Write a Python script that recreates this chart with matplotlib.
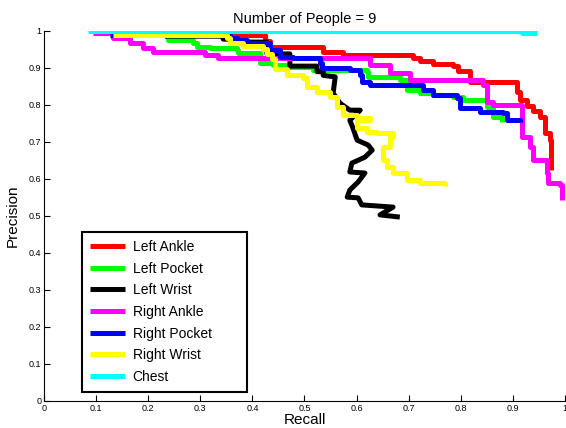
import matplotlib
matplotlib.use("Agg")
import matplotlib.pyplot as plt

plt.rcParams['font.family'] = ['Liberation Sans', 'DejaVu Sans']

# precision / recall curves (step corners)
left_ankle_r = [0.274, 0.424, 0.434, 0.536, 0.574, 0.708, 0.722, 0.747, 0.785, 0.795, 0.818, 0.818,
                0.908, 0.914, 0.927, 0.939, 0.952, 0.962, 0.971, 0.973]
left_ankle_p = [0.989, 0.973, 0.957, 0.943, 0.935, 0.927, 0.919, 0.911, 0.905, 0.892, 0.886, 0.862,
                0.835, 0.814, 0.797, 0.784, 0.768, 0.724, 0.705, 0.624]

left_pocket_r = [0.127, 0.238, 0.286, 0.294, 0.319, 0.370, 0.372, 0.409, 0.415, 0.440, 0.472, 0.516,
                 0.620, 0.622, 0.683, 0.697, 0.722, 0.747, 0.785, 0.804, 0.850, 0.862, 0.879]
left_pocket_p = [0.989, 0.976, 0.968, 0.957, 0.954, 0.949, 0.941, 0.941, 0.914, 0.908, 0.903, 0.895,
                 0.889, 0.876, 0.868, 0.841, 0.832, 0.827, 0.822, 0.814, 0.795, 0.768, 0.754]

left_wrist_r = [0.232, 0.344, 0.344, 0.363, 0.363, 0.428, 0.428, 0.472, 0.472, 0.524, 0.524, 0.536,
                0.536, 0.559, 0.555, 0.568, 0.587, 0.607, 0.587, 0.593, 0.601, 0.622, 0.630, 0.616,
                0.591, 0.587, 0.616, 0.603, 0.587, 0.582, 0.603, 0.610, 0.670, 0.645, 0.683]
left_wrist_p = [0.986, 0.986, 0.978, 0.978, 0.970, 0.970, 0.938, 0.938, 0.905, 0.905, 0.890, 0.890,
                0.880, 0.876, 0.832, 0.805, 0.786, 0.786, 0.759, 0.738, 0.705, 0.692, 0.678, 0.659,
                0.643, 0.619, 0.616, 0.592, 0.570, 0.551, 0.549, 0.530, 0.524, 0.503, 0.497]

right_ankle_r = [0.094, 0.132, 0.165, 0.190, 0.209, 0.305, 0.309, 0.334, 0.620, 0.626, 0.664, 0.702,
                 0.804, 0.843, 0.850, 0.862, 0.914, 0.917, 0.933, 0.939, 0.965, 0.967, 0.990, 0.994]
right_ankle_p = [0.995, 0.981, 0.968, 0.954, 0.943, 0.943, 0.935, 0.927, 0.927, 0.908, 0.886, 0.868,
                 0.868, 0.854, 0.808, 0.800, 0.800, 0.714, 0.686, 0.651, 0.616, 0.589, 0.584, 0.543]

right_pocket_r = [0.127, 0.351, 0.357, 0.370, 0.390, 0.434, 0.453, 0.478, 0.530, 0.534, 0.587, 0.607,
                  0.610, 0.626, 0.727, 0.747, 0.793, 0.798, 0.837, 0.881, 0.889, 0.914]
right_pocket_p = [0.989, 0.989, 0.981, 0.976, 0.968, 0.949, 0.930, 0.927, 0.914, 0.900, 0.895, 0.881,
                  0.862, 0.854, 0.841, 0.827, 0.819, 0.792, 0.781, 0.778, 0.759, 0.754]

right_wrist_r = [0.132, 0.351, 0.357, 0.382, 0.420, 0.428, 0.438, 0.443, 0.466, 0.497, 0.505, 0.524,
                 0.549, 0.562, 0.574, 0.601, 0.626, 0.601, 0.620, 0.639, 0.670, 0.664, 0.651, 0.658,
                 0.670, 0.697, 0.722, 0.770]
right_wrist_p = [0.989, 0.981, 0.968, 0.959, 0.951, 0.938, 0.924, 0.897, 0.881, 0.873, 0.849, 0.835,
                 0.822, 0.795, 0.773, 0.765, 0.759, 0.738, 0.727, 0.724, 0.714, 0.686, 0.651, 0.632,
                 0.616, 0.597, 0.589, 0.581]

chest_r = [0.085, 0.914, 0.918, 0.946]
chest_p = [1.0, 1.0, 0.995, 0.995]

series = [
    ("Left Ankle", left_ankle_r, left_ankle_p, (1, 0, 0), 'steps-post'),
    ("Left Pocket", left_pocket_r, left_pocket_p, (0, 1, 0), 'steps-post'),
    ("Left Wrist", left_wrist_r, left_wrist_p, (0, 0, 0), 'default'),
    ("Right Ankle", right_ankle_r, right_ankle_p, (1, 0, 1), 'steps-post'),
    ("Right Pocket", right_pocket_r, right_pocket_p, (0, 0, 1), 'steps-post'),
    ("Right Wrist", right_wrist_r, right_wrist_p, (1, 1, 0), 'steps-post'),
    ("Chest", chest_r, chest_p, (0, 1, 1), 'steps-post'),
]

tick_vals = [0, 0.1, 0.2, 0.3, 0.4, 0.5, 0.6, 0.7, 0.8, 0.9, 1]
tick_labels = ["0", "0.1", "0.2", "0.3", "0.4", "0.5", "0.6", "0.7", "0.8", "0.9", "1"]

fig = plt.figure(figsize=(5.66, 4.28), dpi=100)
ax = fig.add_axes([0.0777, 0.0631, 0.9205, 0.8645])

for name, r, p, c, ds in series:
    ax.plot(r, p, color=c, linewidth=3.6, label=name, drawstyle=ds,
            solid_joinstyle='round', solid_capstyle='butt')

ax.set_xlim(0, 1)
ax.set_ylim(0, 1)
ax.set_xticks(tick_vals)
ax.set_xticklabels(tick_labels)
ax.set_yticks(tick_vals)
ax.set_yticklabels(tick_labels)
ax.tick_params(direction='in', length=4, width=0.8, labelsize=6.5, pad=2)
ax.spines['top'].set_visible(False)
ax.spines['right'].set_visible(False)
ax.set_xlabel("Recall", fontsize=11, labelpad=0)
ax.set_ylabel("Precision", fontsize=11, labelpad=6)
ax.set_title("Number of People = 9", fontsize=10.5, pad=6)

leg = ax.legend(loc='lower left', bbox_to_anchor=(0.073, 0.024, 0.317, 0.432), mode='expand',
                borderaxespad=0, fancybox=False, edgecolor='black', framealpha=1, fontsize=10,
                handlelength=2.5, handletextpad=0.55, labelspacing=0.55, borderpad=0.6)
leg.get_frame().set_linewidth(1.5)

fig.savefig("out.png", dpi=100)
